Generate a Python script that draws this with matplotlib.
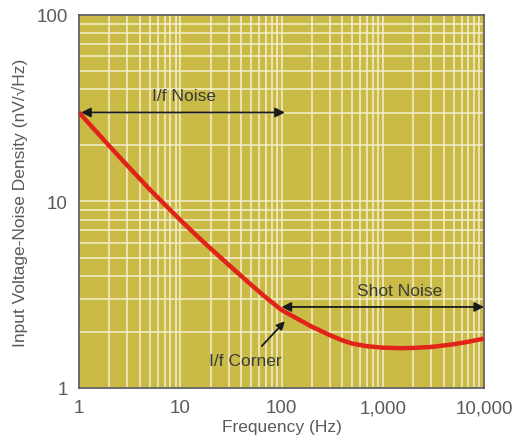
import numpy as np
import matplotlib.pyplot as plt
from matplotlib.ticker import FixedLocator, LogLocator, NullFormatter

# curve (frequency in Hz, noise density in nV/rtHz)
freq = [1, 2, 3, 5, 7, 10, 15, 20, 30, 50, 70, 100, 150, 200, 300, 400,
        500, 700, 1000, 1500, 2000, 3000, 5000, 7000, 10000]
noise = [30, 19.8, 15.6, 11.6, 9.66, 7.96, 6.45, 5.59, 4.58, 3.58, 3.06, 2.62,
         2.32, 2.13, 1.92, 1.80, 1.73, 1.675, 1.645, 1.635, 1.64, 1.66, 1.715,
         1.77, 1.84]

x_ticks = [1, 10, 100, 1000, 10000]
x_tick_labels = ["1", "10", "100", "1,000", "10,000"]
y_ticks = [1, 10, 100]
y_tick_labels = ["1", "10", "100"]

plt.rcParams['font.family'] = ['Liberation Sans', 'DejaVu Sans']
txt_col = '#5a5a5a'

fig = plt.figure(figsize=(5.17, 4.39), dpi=100)
ax = fig.add_axes([0.1528, 0.1139, 0.7834, 0.8497])
ax.set_facecolor('#c9bb45')
ax.set_xscale('log')
ax.set_yscale('log')
ax.set_xlim(1, 10000)
ax.set_ylim(1, 100)

ax.plot(freq, noise, color='#e2231a', lw=3.2, solid_joinstyle='round',
        solid_capstyle='butt', zorder=3)

ax.xaxis.set_major_locator(FixedLocator(x_ticks))
ax.yaxis.set_major_locator(FixedLocator(y_ticks))
ax.set_xticklabels(x_tick_labels)
ax.set_yticklabels(y_tick_labels)
ax.xaxis.set_minor_locator(LogLocator(base=10, subs=np.arange(2, 10)))
ax.yaxis.set_minor_locator(LogLocator(base=10, subs=np.arange(2, 10)))
ax.xaxis.set_minor_formatter(NullFormatter())
ax.yaxis.set_minor_formatter(NullFormatter())
ax.grid(True, which='both', color='#f4f0d0', lw=1.3, alpha=0.85)
ax.set_axisbelow(True)
ax.tick_params(which='both', length=0, labelsize=13.5, colors=txt_col, pad=8)

for s in ax.spines.values():
    s.set_color('#555555')
    s.set_linewidth(1.2)

ax.set_xlabel('Frequency (Hz)', fontsize=12.5, color=txt_col, labelpad=2)
ax.set_ylabel('Input Voltage-Noise Density (nV/\u221aHz)', fontsize=12.5, color=txt_col, labelpad=6)

arrow = dict(arrowstyle='<|-|>', color='#1a1a1a', lw=1.3, mutation_scale=14, shrinkA=0, shrinkB=0)
ax.annotate('', xy=(1.05, 30), xytext=(108, 30), arrowprops=arrow)
ax.text(11, 36.8, 'I/f Noise', ha='center', va='center', fontsize=12.5, color='#3a3a3a')
ax.annotate('', xy=(100, 2.72), xytext=(10000, 2.72), arrowprops=arrow)
ax.text(1475, 3.35, 'Shot Noise', ha='center', va='center', fontsize=12.5, color='#3a3a3a')
ax.annotate('', xy=(108, 2.28), xytext=(64, 1.68),
            arrowprops=dict(arrowstyle='-|>', color='#1a1a1a', lw=1.3, mutation_scale=12, shrinkA=0, shrinkB=0))
ax.text(43.5, 1.4, 'I/f Corner', ha='center', va='center', fontsize=12.5, color='#3a3a3a')

fig.savefig('out.png', dpi=100)
